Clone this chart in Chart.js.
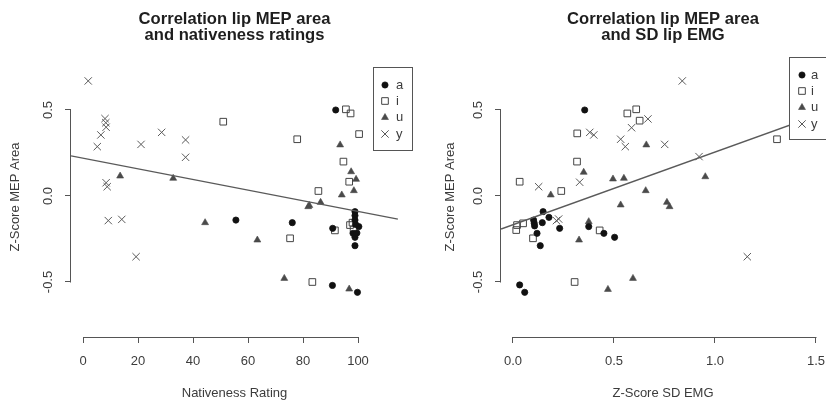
<!DOCTYPE html>
<html>
<head>
<meta charset="utf-8">
<script src="https://cdn.jsdelivr.net/npm/chart.js@4.4.1/dist/chart.umd.min.js"></script>
<style>
  html, body { margin: 0; padding: 0; background: #ffffff; }
  #wrap { position: relative; width: 826px; height: 403px; overflow: hidden; background: #fff; }
  .pane { position: absolute; top: 0; width: 413px; height: 403px; }
  #paneL { left: 0; }
  #paneR { left: 413px; }
</style>
</head>
<body>
<div id="wrap">
  <div class="pane" id="paneL"><canvas id="cL" width="413" height="403"></canvas></div>
  <div class="pane" id="paneR"><canvas id="cR" width="413" height="403"></canvas></div>
</div>
<script>
// ---------------- DATA ----------------
const vowels = ['a', 'i', 'u', 'y'];

// Left panel: Nativeness rating (x) vs Z-score MEP area (y)
const aLeftX = [91.9, 55.6, 76.1, 90.8, 90.7, 99.8, 98.9, 98.9, 98.9, 100.3, 98.2, 99.6, 98.9, 98.9, 99.1];
const aLeftY = [0.50, -0.14, -0.155, -0.188, -0.52, -0.56, -0.091, -0.114, -0.14, -0.178, -0.217, -0.215, -0.24, -0.289, -0.165];
const iLeftX = [95.6, 97.3, 51.0, 100.4, 77.9, 94.7, 96.8, 85.6, 75.3, 91.6, 97.1, 83.4, 98.0, 98.4];
const iLeftY = [0.504, 0.48, 0.432, 0.36, 0.33, 0.20, 0.083, 0.029, -0.246, -0.20, -0.169, -0.50, -0.155, -0.195];
const uLeftX = [93.5, 97.5, 99.3, 98.5, 94.1, 13.5, 32.8, 81.9, 86.4, 44.4, 63.4, 73.2, 96.8, 82.3];
const uLeftY = [0.297, 0.141, 0.097, 0.031, 0.006, 0.116, 0.103, -0.062, -0.037, -0.155, -0.256, -0.479, -0.541, -0.055];
const yLeftX = [1.9, 8.0, 8.3, 8.4, 6.5, 5.2, 28.6, 37.3, 37.3, 21.1, 8.4, 8.8, 9.2, 14.1, 19.3];
const yLeftY = [0.669, 0.45, 0.426, 0.40, 0.355, 0.287, 0.37, 0.326, 0.225, 0.30, 0.077, 0.054, -0.143, -0.136, -0.353];
// fitted line, endpoints read at the plot edges
const lineLeftX = [-4.36, 114.5];
const lineLeftY = [0.233, -0.134];

// Right panel: Z-score SD EMG (x) vs Z-score MEP area (y)
const aRightX = [0.355, 0.149, 0.178, 0.145, 0.102, 0.107, 0.105, 0.119, 0.135, 0.231, 0.375, 0.45, 0.503, 0.033, 0.058];
const aRightY = [0.50, -0.091, -0.124, -0.155, -0.14, -0.174, -0.158, -0.217, -0.289, -0.188, -0.178, -0.217, -0.24, -0.517, -0.56];
const iRightX = [0.566, 0.61, 0.627, 0.318, 0.317, 1.307, 0.033, 0.239, 0.02, 0.016, 0.05, 0.099, 0.429, 0.305];
const iRightY = [0.48, 0.504, 0.438, 0.364, 0.20, 0.33, 0.083, 0.029, -0.169, -0.198, -0.159, -0.246, -0.20, -0.50];
const uRightX = [0.35, 0.66, 0.495, 0.549, 0.187, 0.952, 0.657, 0.533, 0.762, 0.775, 0.375, 0.327, 0.594, 0.47];
const uRightY = [0.138, 0.297, 0.099, 0.103, 0.006, 0.112, 0.031, -0.052, -0.037, -0.062, -0.149, -0.256, -0.479, -0.543];
const yRightX = [0.838, 0.668, 0.587, 0.38, 0.40, 0.533, 0.556, 0.751, 0.921, 0.33, 0.127, 0.226, 0.215, 1.16];
const yRightY = [0.669, 0.448, 0.397, 0.37, 0.355, 0.33, 0.287, 0.30, 0.229, 0.08, 0.054, -0.134, -0.143, -0.353];
const lineRightX = [-0.059, 1.545];
const lineRightY = [-0.192, 0.486];

// Tick values and labels
const leftXTicks = [0, 20, 40, 60, 80, 100];
const leftXTickLabels = ['0', '20', '40', '60', '80', '100'];
const rightXTicks = [0, 0.5, 1, 1.5];
const rightXTickLabels = ['0.0', '0.5', '1.0', '1.5'];
const yTicks = [-0.5, 0, 0.5];
const yTickLabels = ['-0.5', '0.0', '0.5'];

const titleLeft = ['Correlation lip MEP area', 'and nativeness ratings'];
const titleRight = ['Correlation lip MEP area', 'and SD lip EMG'];
const xTitleLeft = 'Nativeness Rating';
const xTitleRight = 'Z-Score SD EMG';
const yTitle = 'Z-Score MEP Area';

// ---------------- STYLE ----------------
const FONT = "'Liberation Sans', Arial, Helvetica, sans-serif";
const AXIS_COL = '#555555';
const TEXT_COL = '#3c3c3c';
const markerStyles = {
  a: { pointStyle: 'circle', radius: 3.1, fill: '#111111', stroke: '#111111', width: 0.8 },
  i: { pointStyle: 'rect', radius: 4.7, fill: 'rgba(255,255,255,0)', stroke: '#444444', width: 1 },
  u: { pointStyle: 'triangle', radius: 4, fill: '#4a4a4a', stroke: '#4a4a4a', width: 0.6 },
  y: { pointStyle: 'crossRot', radius: 5.2, fill: '#555555', stroke: '#5a5a5a', width: 1 }
};

function pts(xs, ys) { return xs.map((x, k) => ({ x: x, y: ys[k] })); }

// R-style axis lines spanning first..last tick
const rAxisLines = {
  id: 'rAxisLines',
  afterDraw(chart) {
    const ctx = chart.ctx;
    const xs = chart.scales.x, ys = chart.scales.y;
    const xt = xs.ticks, yt = ys.ticks;
    ctx.save();
    ctx.strokeStyle = AXIS_COL;
    ctx.lineWidth = 1;
    ctx.beginPath();
    const yy = Math.round(xs.top) + 0.5;
    ctx.moveTo(Math.round(xs.getPixelForValue(xt[0].value)), yy);
    ctx.lineTo(Math.round(xs.getPixelForValue(xt[xt.length - 1].value)) + 0.5, yy);
    const xx = Math.round(ys.right) - 0.5;
    ctx.moveTo(xx, Math.round(ys.getPixelForValue(yt[0].value)) + 0.5);
    ctx.lineTo(xx, Math.round(ys.getPixelForValue(yt[yt.length - 1].value)) - 0.5);
    ctx.stroke();
    ctx.restore();
  }
};

function drawMarker(ctx, style, x, y) {
  const s = markerStyles[style];
  ctx.save();
  ctx.fillStyle = s.fill;
  ctx.strokeStyle = s.stroke;
  ctx.lineWidth = s.width;
  const r = s.radius;
  ctx.beginPath();
  if (s.pointStyle === 'circle') {
    ctx.arc(x, y, r, 0, Math.PI * 2);
    ctx.fill(); ctx.stroke();
  } else if (s.pointStyle === 'rect') {
    const h = r / Math.SQRT2;
    ctx.rect(x - h, y - h, 2 * h, 2 * h);
    ctx.stroke();
  } else if (s.pointStyle === 'triangle') {
    ctx.moveTo(x, y - r);
    ctx.lineTo(x + r * Math.sin(2 * Math.PI / 3), y - r * Math.cos(2 * Math.PI / 3));
    ctx.lineTo(x + r * Math.sin(4 * Math.PI / 3), y - r * Math.cos(4 * Math.PI / 3));
    ctx.closePath();
    ctx.fill(); ctx.stroke();
  } else {
    const h = r * Math.SQRT1_2;
    ctx.moveTo(x - h, y - h); ctx.lineTo(x + h, y + h);
    ctx.moveTo(x - h, y + h); ctx.lineTo(x + h, y - h);
    ctx.stroke();
  }
  ctx.restore();
}

// R-style boxed legend inside the plot
const boxLegend = {
  id: 'boxLegend',
  afterDraw(chart, args, o) {
    const ctx = chart.ctx;
    ctx.save();
    ctx.fillStyle = '#ffffff';
    ctx.fillRect(o.x1, o.y1, o.x2 - o.x1, o.y2 - o.y1);
    ctx.strokeStyle = AXIS_COL;
    ctx.lineWidth = 1;
    ctx.strokeRect(o.x1 + 0.5, o.y1 + 0.5, o.x2 - o.x1, o.y2 - o.y1);
    ctx.font = '13px ' + FONT;
    ctx.fillStyle = TEXT_COL;
    ctx.textBaseline = 'middle';
    ctx.textAlign = 'left';
    vowels.forEach((v, k) => {
      const yy = o.rowY[k];
      drawMarker(ctx, v, o.markerX, yy);
      ctx.fillText(v, o.textX, yy);
    });
    ctx.restore();
  }
};

function makeChart(id, c) {
  const datasets = [
    {
      label: 'fit', data: pts(c.lineX, c.lineY), showLine: true, pointRadius: 0,
      borderColor: '#5a5a5a', borderWidth: 1.3, order: 0, fill: false
    }
  ];
  vowels.forEach((v, k) => {
    const s = markerStyles[v];
    datasets.push({
      label: v, data: pts(c.xs[k], c.ys[k]), showLine: false,
      pointStyle: s.pointStyle, pointRadius: s.radius, pointHoverRadius: s.radius,
      backgroundColor: s.fill, borderColor: s.stroke, pointBorderWidth: s.width, borderWidth: s.width,
      order: 1 + k
    });
  });

  return new Chart(document.getElementById(id), {
    type: 'scatter',
    data: { datasets: datasets },
    options: {
      responsive: false,
      animation: false,
      events: [],
      layout: { autoPadding: false, padding: { left: 0, right: c.padRight, top: 0, bottom: 0 } },
      plugins: {
        legend: { display: false },
        tooltip: { enabled: false },
        title: {
          display: true, text: c.title, fullSize: false, align: 'center',
          color: '#1e1e1e', font: { family: FONT, size: 16.6, weight: 'bold', lineHeight: 0.94 },
          padding: { top: 12, bottom: 13.8 }
        },
        boxLegend: c.legend
      },
      scales: {
        x: {
          type: 'linear', min: c.xMin, max: c.xMax,
          afterBuildTicks: (s) => { s.ticks = c.xTicks.map(v => ({ value: v })); },
          afterFit: (s) => { s.height = 66; s.paddingLeft = 0; s.paddingRight = 0; },
          grid: { drawOnChartArea: false, drawTicks: true, tickLength: 6, color: AXIS_COL, tickColor: AXIS_COL, lineWidth: 1 },
          border: { display: false },
          ticks: {
            autoSkip: false, maxRotation: 0, minRotation: 0, padding: 11,
            color: TEXT_COL, font: { family: FONT, size: 13 },
            callback: (val, idx) => c.xTickLabels[idx]
          },
          title: { display: true, text: c.xTitle, color: TEXT_COL, font: { family: FONT, size: 13 }, padding: { top: 0, bottom: 1.5 } }
        },
        y: {
          type: 'linear', min: -0.8198, max: 0.8081,
          afterBuildTicks: (s) => { s.ticks = yTicks.map(v => ({ value: v })); },
          afterFit: (s) => { s.width = c.yWidth; s.paddingTop = 0; s.paddingBottom = 0; },
          grid: { drawOnChartArea: false, drawTicks: true, tickLength: 6, color: AXIS_COL, tickColor: AXIS_COL, lineWidth: 1 },
          border: { display: false },
          ticks: {
            autoSkip: false, minRotation: 90, maxRotation: 90, crossAlign: 'center', padding: 5.5,
            color: TEXT_COL, font: { family: FONT, size: 13 },
            callback: (val, idx) => yTickLabels[idx]
          },
          title: { display: true, text: yTitle, color: TEXT_COL, font: { family: FONT, size: 13 }, padding: { top: c.yTitlePad, bottom: 0 } }
        }
      }
    },
    plugins: [rAxisLines, boxLegend]
  });
}

makeChart('cL', {
  xs: [aLeftX, iLeftX, uLeftX, yLeftX], ys: [aLeftY, iLeftY, uLeftY, yLeftY],
  lineX: lineLeftX, lineY: lineLeftY,
  xMin: -4.364, xMax: 114.545, xTicks: leftXTicks, xTickLabels: leftXTickLabels,
  title: titleLeft, xTitle: xTitleLeft,
  padRight: 15, yWidth: 71, yTitlePad: 7.5,
  legend: { x1: 373, y1: 67, x2: 412, y2: 150, markerX: 385, textX: 396, rowY: [85, 101, 117.5, 134] }
});

makeChart('cR', {
  xs: [aRightX, iRightX, uRightX, yRightX], ys: [aRightY, iRightY, uRightY, yRightY],
  lineX: lineRightX, lineY: lineRightY,
  xMin: -0.0594, xMax: 1.5446, xTicks: rightXTicks, xTickLabels: rightXTickLabels,
  title: titleRight, xTitle: xTitleRight,
  padRight: 1, yWidth: 88, yTitlePad: 30,
  legend: { x1: 376, y1: 57, x2: 420, y2: 139, markerX: 389, textX: 398, rowY: [75, 91, 107.5, 124] }
});
</script>
</body>
</html>
